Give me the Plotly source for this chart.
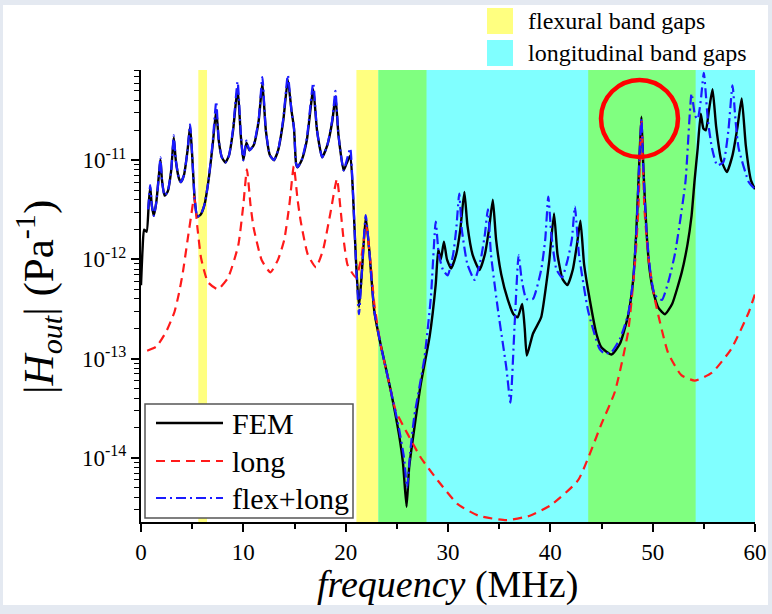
import plotly.graph_objects as go

# ---------------------------------------------------------------
# Transfer function magnitude |H_out| (Pa^-1) versus frequency (MHz)
# ---------------------------------------------------------------
fem_freq = [0.0, 0.15, 0.3, 0.55, 0.75, 0.9, 1.05, 1.25, 1.5, 1.75, 1.9, 2.05, 2.3, 2.6, 2.95,
            3.2, 3.4, 3.7, 3.9, 4.2, 4.55, 4.8, 5.0, 5.25, 5.5, 5.8, 6.2, 6.6, 7.0, 7.35,
            7.6, 7.9, 8.25, 8.6, 9.0, 9.44, 9.75, 10.0, 10.3, 10.6, 11.0, 11.5, 11.86, 12.2,
            12.6, 13.0, 13.4, 13.9, 14.35, 14.7, 14.95, 15.15, 15.3, 15.7, 16.2, 16.83, 17.2,
            17.7, 18.2, 18.7, 19.0, 19.3, 19.8, 20.1, 20.45, 20.7, 21.0, 21.3, 21.6, 21.96,
            22.3, 22.8, 23.4, 24.4, 25.2, 25.6, 25.95, 26.2, 26.5, 27.35, 28.2, 28.8, 29.05,
            29.3, 29.6, 29.9, 30.3, 30.8, 31.2, 31.6, 31.9, 32.4, 33.07, 33.6, 34.0, 34.38,
            34.7, 35.2, 35.85, 36.4, 36.8, 37.25, 37.5, 37.7, 38.3, 39.1, 39.6, 39.9, 40.36,
            40.7, 41.2, 41.67, 42.2, 42.6, 42.94, 43.3, 43.86, 44.5, 45.0, 45.98, 46.8, 47.6,
            48.1, 48.4, 48.7, 48.9, 49.1, 49.4, 49.7, 50.07, 50.6, 51.2, 51.9, 52.84, 53.4,
            53.8, 54.1, 54.4, 54.7, 54.95, 55.2, 55.5, 55.85, 56.2, 56.7, 57.25, 57.8, 58.3,
            58.7, 59.1, 59.6, 60.0]
fem_h = [5.5e-13, 1.26e-12, 2.0e-12, 1.9e-12, 3.55e-12, 5.4e-12, 3.55e-12, 2.75e-12, 3.8e-12,
         7.1e-12, 1.02e-11, 6.3e-12, 4.4e-12, 4.8e-12, 7.9e-12, 1.7e-11, 1.0e-11, 6.6e-12,
         6.0e-12, 7.1e-12, 1.26e-11, 2.2e-11, 1.12e-11, 4.0e-12, 2.7e-12, 2.8e-12, 3.55e-12,
         6.3e-12, 1.41e-11, 3.2e-11, 1.58e-11, 1.07e-11, 9.5e-12, 1.12e-11, 2.0e-11, 5.4e-11,
         1.78e-11, 1.0e-11, 1.5e-11, 1.26e-11, 1.41e-11, 2.5e-11, 6.0e-11, 2.0e-11, 1.12e-11,
         1.0e-11, 1.26e-11, 2.5e-11, 6.5e-11, 3.2e-11, 2.1e-11, 9.3e-12, 8.5e-12, 1.0e-11,
         1.58e-11, 5.2e-11, 2.0e-11, 1.07e-11, 1.41e-11, 2.5e-11, 4.4e-11, 1.78e-11, 7.9e-12,
         9.3e-12, 1.12e-11, 5.0e-12, 1.0e-12, 3.3e-13, 7.9e-13, 2.7e-12, 1.26e-12, 3.0e-13,
         1.41e-13, 4.8e-14, 1.74e-14, 8.9e-15, 3.2e-15, 7.9e-15, 1.38e-14, 5.6e-14, 1.66e-13,
         5.6e-13, 1.26e-12, 1.0e-12, 1.51e-12, 1.0e-12, 8.1e-13, 1.12e-12, 2.0e-12, 4.8e-12,
         2.2e-12, 1.12e-12, 7.8e-13, 1.12e-12, 2.0e-12, 4.0e-12, 1.58e-12, 7.1e-13, 3.9e-13,
         2.8e-13, 2.6e-13, 3.55e-13, 2.0e-13, 1.07e-13, 1.78e-13, 2.6e-13, 5.6e-13, 9.8e-13,
         2.9e-12, 1.12e-12, 6.3e-13, 5.5e-13, 7.9e-13, 1.41e-12, 2.45e-12, 8.9e-13, 3.9e-13,
         1.78e-13, 1.29e-13, 1.1e-13, 1.41e-13, 2.7e-13, 6.3e-13, 1.9e-12, 1.0e-11, 2.75e-11,
         7.9e-12, 1.9e-12, 7.9e-13, 4.7e-13, 3.2e-13, 2.8e-13, 3.55e-13, 7.4e-13, 1.41e-12,
         2.75e-12, 6.3e-12, 1.32e-11, 2.95e-11, 2.1e-11, 2.0e-11, 3.2e-11, 5.2e-11, 2.2e-11,
         1.0e-11, 7.6e-12, 1.12e-11, 2.2e-11, 4.2e-11, 1.41e-11, 6.3e-12, 5.1e-12]

long_freq = [0.6, 1.5, 2.45, 3.27, 3.7, 4.09, 4.57, 4.9, 5.2, 5.49, 5.88, 6.54, 7.5, 8.5, 9.5,
             10.0, 10.35, 10.7, 11.0, 11.8, 12.65, 13.4, 14.0, 14.5, 14.93, 15.3, 15.6, 16.3,
             17.1, 17.8, 18.5, 19.15, 19.5, 19.8, 20.2, 21.0, 21.5, 22.0, 22.4, 22.8, 23.4,
             24.4, 24.9, 26.05, 27.35, 29.0, 30.95, 33.0, 35.7, 38.0, 40.0, 42.7, 45.0, 46.3,
             47.6, 48.3, 48.6, 48.9, 49.2, 49.6, 50.2, 51.5, 52.8, 54.1, 55.8, 57.7, 59.4, 60.0]
long_h = [1.2e-13, 1.32e-13, 1.86e-13, 2.95e-13, 4.5e-13, 7.4e-13, 1.62e-12, 2.75e-12, 4.3e-12,
          2.2e-12, 1.02e-12, 5.9e-13, 5.0e-13, 6.5e-13, 1.38e-12, 3.55e-12, 8.1e-12, 3.55e-12,
          2.1e-12, 9.8e-13, 7.4e-13, 1.0e-12, 1.58e-12, 3.55e-12, 8.7e-12, 4.0e-12, 2.45e-12,
          1.12e-12, 8.3e-13, 1.26e-12, 2.9e-12, 6.5e-12, 3.2e-12, 1.58e-12, 8.7e-13, 6.6e-13,
          1.0e-12, 2.2e-12, 1.0e-12, 3.55e-13, 1.41e-13, 4.8e-14, 2.95e-14, 1.74e-14, 1.0e-14,
          5.9e-15, 3.4e-15, 2.6e-15, 2.35e-15, 2.6e-15, 3.3e-15, 5.9e-15, 2.2e-14, 4.6e-14,
          1.86e-13, 1.0e-12, 3.2e-12, 2.6e-11, 3.2e-12, 1.0e-12, 4.0e-13, 1.15e-13, 6.8e-14,
          6.0e-14, 7.2e-14, 1.26e-13, 2.95e-13, 4.5e-13]

flex_long_freq = [0.7, 0.9, 1.05, 1.25, 1.5, 1.75, 1.9, 2.05, 2.3, 2.6, 2.95, 3.2, 3.4, 3.7, 3.9,
                  4.2, 4.55, 4.8, 5.0, 5.25, 5.5, 5.8, 6.2, 6.6, 7.0, 7.35, 7.6, 7.9, 8.25, 8.6,
                  9.0, 9.44, 9.75, 10.0, 10.3, 10.6, 11.0, 11.5, 11.86, 12.2, 12.6, 13.0, 13.4,
                  13.9, 14.35, 14.7, 14.95, 15.15, 15.3, 15.7, 16.2, 16.83, 17.2, 17.7, 18.2,
                  18.7, 19.0, 19.3, 19.8, 20.1, 20.45, 20.7, 21.0, 21.3, 21.6, 21.96, 22.3, 22.8,
                  23.4, 24.4, 25.2, 25.7, 26.0, 26.3, 26.7, 27.7, 28.33, 28.8, 29.1, 29.5, 29.97,
                  30.5, 30.8, 31.1, 31.35, 31.9, 32.6, 33.2, 33.6, 33.9, 34.2, 34.9, 35.7, 36.1,
                  36.5, 36.9, 37.2, 37.65, 38.3, 39.1, 39.5, 39.8, 40.1, 40.6, 41.15, 41.7, 42.1,
                  42.4, 42.8, 43.7, 44.8, 45.3, 46.0, 46.8, 47.6, 48.1, 48.4, 48.7, 48.9, 49.1,
                  49.4, 49.8, 50.2, 50.9, 51.6, 52.2, 53.2, 53.8, 54.15, 54.4, 54.7, 55.0, 55.4,
                  55.8, 56.3, 56.9, 57.4, 57.8, 58.1, 58.4, 59.4, 60.0]
flex_long_h = [3.2e-12, 5.6e-12, 3.55e-12, 2.75e-12, 3.8e-12, 7.1e-12, 1.07e-11, 6.3e-12, 4.4e-12,
               4.8e-12, 7.9e-12, 1.78e-11, 1.0e-11, 6.6e-12, 6.0e-12, 7.1e-12, 1.26e-11, 2.3e-11,
               1.12e-11, 4.0e-12, 2.7e-12, 2.8e-12, 3.55e-12, 6.3e-12, 1.51e-11, 3.9e-11, 1.58e-11,
               1.07e-11, 9.5e-12, 1.12e-11, 2.1e-11, 6.2e-11, 1.9e-11, 1.0e-11, 1.58e-11, 1.26e-11,
               1.41e-11, 2.6e-11, 6.9e-11, 2.0e-11, 1.12e-11, 1.0e-11, 1.26e-11, 2.6e-11, 7.2e-11,
               3.2e-11, 2.1e-11, 9.3e-12, 8.5e-12, 1.0e-11, 1.66e-11, 6.0e-11, 2.0e-11, 1.07e-11,
               1.41e-11, 2.6e-11, 5.0e-11, 1.78e-11, 7.9e-12, 1.0e-11, 1.32e-11, 5.0e-12, 1.0e-12,
               2.8e-13, 7.9e-13, 2.8e-12, 1.26e-12, 3.0e-13, 1.41e-13, 4.8e-14, 2.0e-14, 1.0e-14,
               5.0e-15, 1.12e-14, 2.6e-14, 1.02e-13, 4.2e-13, 2.4e-12, 1.12e-12, 7.9e-13, 6.9e-13,
               1.12e-12, 2.0e-12, 4.6e-12, 2.0e-12, 8.9e-13, 6.2e-13, 1.0e-12, 1.78e-12, 3.2e-12,
               1.12e-12, 3.0e-13, 8.1e-14, 3.6e-14, 2.1e-13, 1.1e-12, 6.3e-13, 4.0e-13, 4.0e-13,
               7.8e-13, 1.58e-12, 4.3e-12, 1.78e-12, 7.9e-13, 6.6e-13, 1.0e-12, 1.58e-12, 3.4e-12,
               1.12e-12, 3.0e-13, 1.26e-13, 1.12e-13, 1.17e-13, 1.58e-13, 2.8e-13, 6.3e-13, 1.9e-12,
               1.0e-11, 2.6e-11, 7.9e-12, 1.9e-12, 7.1e-13, 4.4e-13, 3.9e-13, 6.3e-13, 1.17e-12,
               6.0e-12, 4.7e-11, 2.8e-11, 2.6e-11, 4.0e-11, 7.6e-11, 2.5e-11, 1.32e-11, 8.9e-12,
               9.5e-12, 2.0e-11, 5.7e-11, 2.5e-11, 1.32e-11, 6.0e-12, 5.1e-12]

# band gaps (MHz)
flexural_gaps = [(5.6, 6.45), (21.05, 27.9), (43.7, 54.2)]
longitudinal_gaps = [(23.2, 60.0)]

x_ticks = [0, 10, 20, 30, 40, 50, 60]
x_minor = [5, 15, 25, 35, 45, 55]
y_ticks = [1e-14, 1e-13, 1e-12, 1e-11]
y_tick_text = ["10<sup>-14</sup>", "10<sup>-13</sup>", "10<sup>-12</sup>", "10<sup>-11</sup>"]

SERIF = "Liberation Serif, Times New Roman, serif"
YELLOW, CYAN, GREEN = "#ffff80", "#80ffff", "#80ff80"
RED, BLUE = "#ff1a1a", "#1a1aff"
RED_DASH = "9px,6px"
BLUE_DASH = "10px,4px,2px,4px"

# plot area in pixels
L, R, T, B = 141, 755, 70, 522
W, H = 772, 614


def px(x):
    return (x - L) / (R - L)


def py(y):
    return (B - y) / (B - T)


fig = go.Figure()
fig.add_trace(go.Scatter(x=fem_freq, y=fem_h, mode="lines", name="FEM",
                         line=dict(color="black", width=2.4, shape="spline", smoothing=0.5)))
fig.add_trace(go.Scatter(x=long_freq, y=long_h, mode="lines", name="long",
                         line=dict(color=RED, width=2.2, dash=RED_DASH,
                                   shape="spline", smoothing=0.5)))
fig.add_trace(go.Scatter(x=flex_long_freq, y=flex_long_h, mode="lines", name="flex+long",
                         line=dict(color=BLUE, width=2.2, dash=BLUE_DASH,
                                   shape="spline", smoothing=0.5)))

shapes = []
# white page inside the outer frame
shapes.append(dict(type="rect", xref="paper", yref="paper", x0=px(3), x1=px(768),
                   y0=py(605), y1=py(5), fillcolor="white", line_width=0, layer="below"))

# band-gap shading, green where the two kinds overlap
for a, b in flexural_gaps:
    shapes.append(dict(type="rect", xref="x", yref="paper", x0=a, x1=b, y0=0, y1=1,
                       fillcolor=YELLOW, line_width=0, layer="below"))
for a, b in longitudinal_gaps:
    shapes.append(dict(type="rect", xref="x", yref="paper", x0=a, x1=b, y0=0, y1=1,
                       fillcolor=CYAN, line_width=0, layer="below"))
for fa, fb in flexural_gaps:
    for la, lb in longitudinal_gaps:
        a, b = max(fa, la), min(fb, lb)
        if b > a:
            shapes.append(dict(type="rect", xref="x", yref="paper", x0=a, x1=b, y0=0, y1=1,
                               fillcolor=GREEN, line_width=0, layer="below"))

# band-gap key above the plot
for yc, col in [(21, YELLOW), (53, CYAN)]:
    shapes.append(dict(type="rect", xref="paper", yref="paper", x0=px(487), x1=px(513),
                       y0=py(yc + 13), y1=py(yc - 13), fillcolor=col, line_width=0))

# curve key, lower left
shapes.append(dict(type="rect", xref="paper", yref="paper", x0=px(145), x1=px(353),
                   y0=py(518), y1=py(404), fillcolor="white",
                   line=dict(color="#555555", width=1.5)))
key_rows = [("FEM", 423, dict(color="black", width=2.4)),
            ("long", 461, dict(color=RED, width=2.2, dash=RED_DASH)),
            ("flex+long", 498, dict(color=BLUE, width=2.2, dash=BLUE_DASH))]
for _, yc, ln in key_rows:
    shapes.append(dict(type="line", xref="paper", yref="paper", x0=px(156), x1=px(223),
                       y0=py(yc), y1=py(yc), line=ln))

# highlighted peak
shapes.append(dict(type="circle", xref="paper", yref="paper", x0=px(601), x1=px(678),
                   y0=py(157), y1=py(80), line=dict(color="#ff0000", width=4.5)))

annotations = []
for label, yc in [("flexural band gaps", 21), ("longitudinal band gaps", 53)]:
    annotations.append(dict(x=px(526), y=py(yc), xref="paper", yref="paper", text=label,
                            showarrow=False, xanchor="left", yanchor="middle",
                            font=dict(family=SERIF, size=24, color="black")))
for label, yc, _ in key_rows:
    annotations.append(dict(x=px(230), y=py(yc), xref="paper", yref="paper", text=label,
                            showarrow=False, xanchor="left", yanchor="middle",
                            font=dict(family=SERIF, size=30, color="black")))
annotations.append(dict(x=px(447), y=py(584), xref="paper", yref="paper",
                        text="<i>frequency</i> (MHz)", showarrow=False,
                        xanchor="center", yanchor="middle",
                        font=dict(family=SERIF, size=38, color="black")))
annotations.append(dict(x=px(38), y=py(297), xref="paper", yref="paper",
                        text="|<i>H</i><sub><i>out</i></sub>| (Pa<sup>-1</sup>)",
                        showarrow=False, textangle=-90, xanchor="center", yanchor="middle",
                        font=dict(family=SERIF, size=43, color="black")))

y_minor = [k * 10.0 ** e for e in range(-15, -10) for k in range(2, 10)]

fig.update_layout(
    width=W, height=H,
    margin=dict(l=L, r=W - R, t=T, b=H - B, pad=0, autoexpand=False),
    paper_bgcolor="#e4e9f1",
    plot_bgcolor="rgba(0,0,0,0)",
    shapes=shapes,
    annotations=annotations,
    showlegend=False,
    xaxis=dict(range=[0, 60], tickvals=x_ticks, ticks="outside", ticklen=8, tickwidth=1.5,
               tickcolor="black", showline=True, linecolor="black", linewidth=2,
               showgrid=False, zeroline=False, automargin=False,
               tickfont=dict(family=SERIF, size=23, color="black"),
               minor=dict(tickvals=x_minor, ticks="outside", ticklen=5, tickwidth=1.5,
                          tickcolor="black", showgrid=False)),
    yaxis=dict(type="log", range=[-14.648, -10.09], tickvals=y_ticks, ticktext=y_tick_text,
               ticks="outside", ticklen=8, tickwidth=1.5, tickcolor="black",
               showline=True, linecolor="black", linewidth=2, showgrid=False,
               zeroline=False, automargin=False,
               tickfont=dict(family=SERIF, size=23, color="black"),
               minor=dict(tickvals=y_minor, ticks="outside", ticklen=5, tickwidth=1.2,
                          tickcolor="black", showgrid=False)),
)

fig.write_html("out.html")
